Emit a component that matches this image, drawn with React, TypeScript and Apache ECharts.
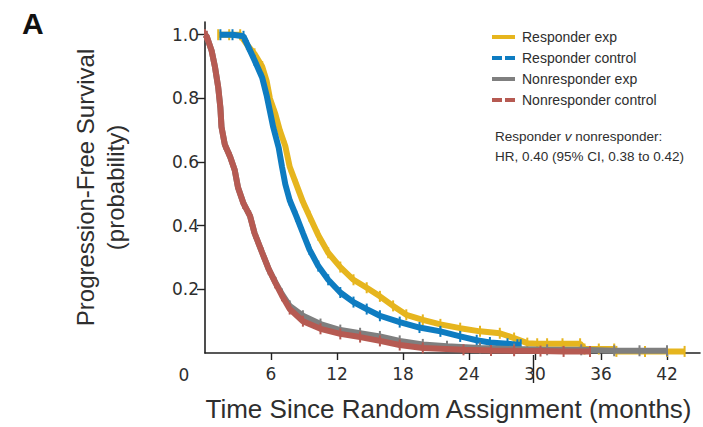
import React, { useEffect, useRef } from "react";
import * as echarts from "echarts";

// Kaplan-Meier curves [months, survival probability]
const responderExp: number[][] = [
  [1.2, 1], [2.2, 1], [3.2, 1], [3.8, 0.97], [4.5, 0.94], [5.2, 0.9], [5.6, 0.855], [5.9, 0.8],
  [6.4, 0.75], [6.8, 0.7], [7.3, 0.65], [7.7, 0.585], [8.3, 0.53], [8.9, 0.475], [9.5, 0.43],
  [10.3, 0.37], [11.2, 0.315], [12.3, 0.27], [13.5, 0.23], [14.7, 0.205], [15.9, 0.178],
  [17.1, 0.148], [18.3, 0.12], [19.8, 0.104], [21.4, 0.09], [23.2, 0.078], [25.0, 0.068],
  [26.8, 0.062], [28.1, 0.047], [29.3, 0.031], [30.2, 0.029], [31.1, 0.029], [32.5, 0.029],
  [34.1, 0.029], [34.5, 0.0125], [35.8, 0.0125], [37.2, 0.0125], [37.4, 0.005], [40, 0.005],
  [42, 0.005], [43.6, 0.005],
];
const responderControl: number[][] = [
  [1.4, 1], [2.5, 1], [3.5, 0.995], [3.9, 0.965], [4.5, 0.92], [5.2, 0.865], [5.6, 0.81],
  [5.9, 0.76], [6.2, 0.71], [6.7, 0.645], [7.0, 0.585], [7.3, 0.53], [7.7, 0.48], [8.3, 0.43],
  [8.9, 0.377], [9.5, 0.325], [10.3, 0.273], [11.2, 0.23], [12.3, 0.19], [13.5, 0.16],
  [14.7, 0.138], [15.9, 0.117], [17.7, 0.097], [19.5, 0.08], [21.4, 0.068], [23.2, 0.052],
  [24.7, 0.04], [25.9, 0.033], [27.5, 0.029], [28.4, 0.026], [28.7, 0.026],
];
const nonresponderExp: number[][] = [
  [0, 1], [0.15, 0.995], [0.6, 0.95], [0.9, 0.9], [1.2, 0.835], [1.4, 0.77], [1.5, 0.71],
  [1.8, 0.655], [2.3, 0.615], [2.7, 0.575], [3.0, 0.52], [3.5, 0.47], [4.1, 0.43], [4.5, 0.377],
  [5.2, 0.315], [5.8, 0.263], [6.4, 0.222], [7.0, 0.185], [7.7, 0.148], [8.9, 0.117],
  [10.5, 0.091], [12.3, 0.072], [14.1, 0.062], [15.9, 0.052], [17.7, 0.038], [19.8, 0.027],
  [22, 0.021], [25, 0.016], [28.1, 0.0125], [31.1, 0.01], [34.2, 0.01], [37.2, 0.007],
  [39.5, 0.007], [42, 0.007],
];
const nonresponderControl: number[][] = [
  [0, 1], [0.15, 0.995], [0.6, 0.95], [0.9, 0.9], [1.2, 0.835], [1.4, 0.77], [1.5, 0.71],
  [1.8, 0.655], [2.3, 0.615], [2.7, 0.575], [3.0, 0.52], [3.5, 0.47], [4.1, 0.43], [4.5, 0.377],
  [5.2, 0.315], [5.8, 0.263], [6.4, 0.22], [7.0, 0.18], [7.7, 0.138], [8.9, 0.1], [10.5, 0.076],
  [12.3, 0.06], [14.1, 0.05], [15.9, 0.038], [17.7, 0.025], [19.8, 0.016], [23.5, 0.01],
  [26, 0.008], [28.1, 0.007], [30.5, 0.006], [32.6, 0.005], [35, 0.005],
];

const seriesNames = ["Responder exp", "Responder control", "Nonresponder exp", "Nonresponder control"];
const seriesColors = ["#E6B51E", "#0E7CC1", "#7F7F7F", "#B65A52"];
const seriesDashed = [false, true, false, true];
const seriesData = [responderExp, responderControl, nonresponderExp, nonresponderControl];

const xTicks = [6, 12, 18, 24, 30, 36, 42];
const yTicks = [0.2, 0.4, 0.6, 0.8, 1.0];
const xMax = 45;
const yMax = 1.04;

const GRID_LEFT = 205;
const GRID_RIGHT = 3;
const GRID_TOP = 22;
const GRID_BOTTOM = 73;
const W = 703;
const H = 427;

const solidIcon = "path://M0,0H23V4H0Z";
const dashedIcon = "path://M0,0H10V4H0Z M13,0H23V4H13Z";

export default function App() {
  const ref = useRef<HTMLDivElement>(null);
  useEffect(() => {
    if (!ref.current) return;
    const chart = echarts.init(ref.current, undefined, { renderer: "svg" });
    const plotW = W - GRID_LEFT - GRID_RIGHT;
    const x30 = GRID_LEFT + (30 / xMax) * plotW;
    const textColor = "#2e2e2e";
    chart.setOption({
      animation: false,
      backgroundColor: "#ffffff",
      grid: { left: GRID_LEFT, right: GRID_RIGHT, top: GRID_TOP, bottom: GRID_BOTTOM, containLabel: false },
      xAxis: {
        type: "value",
        min: 0,
        max: xMax,
        name: "Time Since Random Assignment (months)",
        nameLocation: "middle",
        nameGap: 43,
        nameTextStyle: {
          fontSize: 26,
          color: textColor,
          fontFamily: "Liberation Sans, Arial, sans-serif",
          padding: [0, 8, 0, 0],
        },
        axisLine: { show: true, lineStyle: { color: "#222", width: 1.6 } },
        axisTick: { show: true, length: 7, customValues: xTicks, lineStyle: { color: "#222", width: 1.4 } },
        axisLabel: {
          customValues: xTicks,
          margin: 12,
          fontSize: 17,
          color: textColor,
          fontFamily: "DejaVu Sans, sans-serif",
        },
        splitLine: { show: false },
      },
      yAxis: {
        type: "value",
        min: 0,
        max: yMax,
        name: "Progression-Free Survival\n(probability)",
        nameLocation: "middle",
        nameRotate: 90,
        nameGap: 75,
        nameTextStyle: {
          fontSize: 24,
          lineHeight: 30,
          color: textColor,
          fontFamily: "Liberation Sans, Arial, sans-serif",
        },
        axisLine: { show: true, lineStyle: { color: "#222", width: 1.6 } },
        axisTick: { show: true, length: 8, customValues: yTicks, lineStyle: { color: "#222", width: 1.4 } },
        axisLabel: {
          customValues: yTicks,
          margin: 6,
          fontSize: 17,
          color: textColor,
          fontFamily: "DejaVu Sans, sans-serif",
          formatter: (v: number) => v.toFixed(1),
        },
        splitLine: { show: false },
      },
      legend: {
        orient: "vertical",
        left: 492,
        top: 29,
        padding: 0,
        itemWidth: 23,
        itemHeight: 4,
        itemGap: 5,
        selectedMode: false,
        itemStyle: { borderWidth: 0 },
        textStyle: {
          fontSize: 14,
          lineHeight: 16,
          color: textColor,
          fontFamily: "Liberation Sans, Arial, sans-serif",
          padding: [0, 0, 0, 2],
        },
        data: seriesNames.map((n, i) => ({ name: n, icon: seriesDashed[i] ? dashedIcon : solidIcon })),
      },
      graphic: [
        {
          type: "text",
          left: 22,
          top: 8,
          style: { text: "A", fontSize: 30, fontWeight: "bold", fill: "#111", fontFamily: "Liberation Sans, Arial, sans-serif" },
        },
        {
          type: "text",
          x: 184,
          y: 375,
          style: {
            text: "0",
            fontSize: 17,
            fill: textColor,
            fontFamily: "DejaVu Sans, sans-serif",
            align: "center",
            verticalAlign: "middle",
          },
        },
        {
          type: "line",
          shape: { x1: x30 - 1.5, y1: H - GRID_BOTTOM + 1, x2: x30 - 1.5, y2: H - GRID_BOTTOM + 29 },
          style: { stroke: "#222", lineWidth: 1.4 },
        },
        {
          type: "text",
          left: 495,
          top: 129,
          style: {
            text: "{a|Responder }{i|v}{a| nonresponder:}\n{a|HR, 0.40 (95% CI, 0.38 to 0.42)}",
            rich: {
              a: { fontSize: 13.5, lineHeight: 20, fill: textColor, fontFamily: "Liberation Sans, Arial, sans-serif" },
              i: { fontSize: 13.5, lineHeight: 20, fill: textColor, fontStyle: "italic", fontFamily: "Liberation Sans, Arial, sans-serif" },
            },
          },
        },
      ],
      series: seriesData.map((d, i) => ({
        name: seriesNames[i],
        type: "line",
        data: d,
        color: seriesColors[i],
        showSymbol: true,
        symbol: "rect",
        symbolSize: [2, 11],
        itemStyle: { color: seriesColors[i] },
        lineStyle: { color: seriesColors[i], width: 6 },
        emphasis: { disabled: true },
        z: 2 + i,
      })),
    });
    return () => chart.dispose();
  }, []);
  return <div ref={ref} style={{ position: "fixed", left: 0, top: 0, width: W, height: H, background: "#fff" }} />;
}
